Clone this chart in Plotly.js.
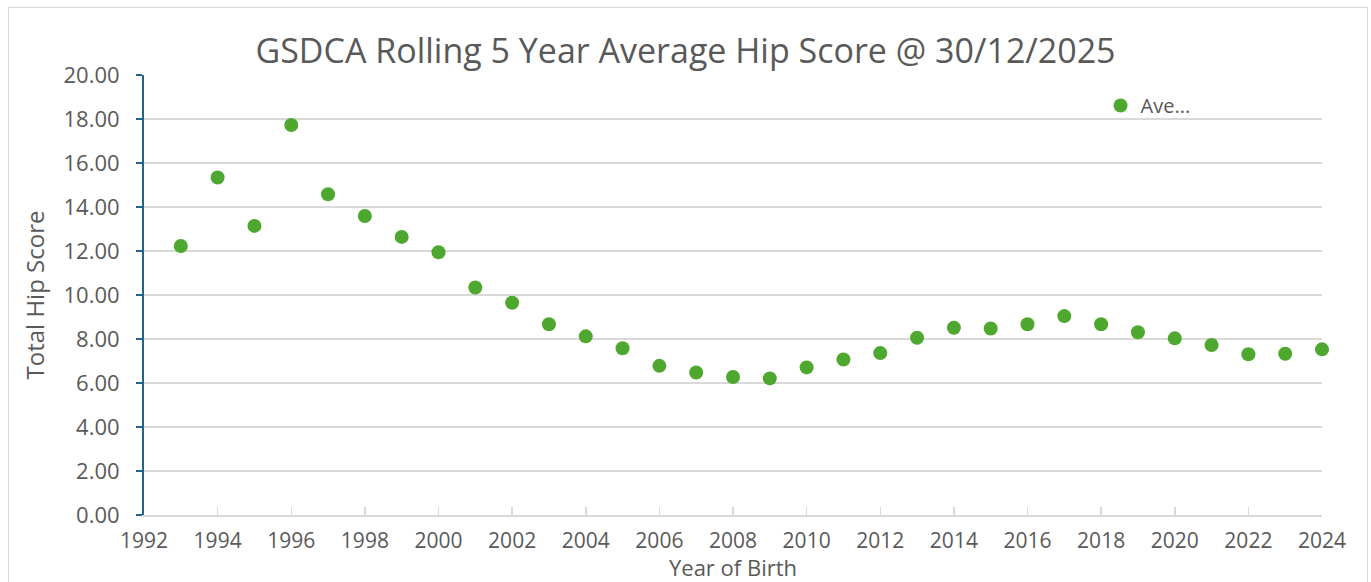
<!DOCTYPE html>
<html>
<head>
<meta charset="utf-8">
<script src="https://cdn.plot.ly/plotly-3.0.1.min.js"></script>
<style>
  html, body { margin: 0; padding: 0; background: #fff; }
  #wrap { position: relative; width: 1371px; height: 582px; overflow: hidden; }
  #chart { width: 1371px; height: 582px; }
  #frame { position: absolute; left: 8px; top: 7px; width: 1360px; height: 600px;
           border: 1.5px solid #d9d9d9; box-sizing: border-box; pointer-events: none; }
</style>
</head>
<body>
<div id="wrap">
  <div id="chart"></div>
  <div id="frame"></div>
</div>
<script>
const years = [1993,1994,1995,1996,1997,1998,1999,2000,2001,2002,2003,2004,2005,2006,2007,2008,
               2009,2010,2011,2012,2013,2014,2015,2016,2017,2018,2019,2020,2021,2022,2023,2024];
const avgHipScore = [12.23,15.34,13.14,17.73,14.58,13.59,12.64,11.94,10.34,9.65,8.67,8.12,7.58,6.78,6.48,6.27,
                     6.21,6.71,7.07,7.36,8.06,8.51,8.48,8.67,9.04,8.67,8.31,8.03,7.73,7.31,7.33,7.53];
const seriesName = "Ave...";
const titleText = "GSDCA Rolling 5 Year Average Hip Score @ 30/12/2025";
const xTitle = "Year of Birth";
const yTitle = "Total Hip Score";

const txt = '#595959';
const font = "'Open Sans', 'Noto Sans', sans-serif";

const trace = {
  x: years, y: avgHipScore, type: 'scatter', mode: 'markers', name: seriesName,
  marker: { color: '#4EA72E', size: 14 },
  cliponaxis: false
};

const layout = {
  width: 1371, height: 582,
  margin: { l: 144, r: 49, t: 75, b: 67 },
  paper_bgcolor: '#fff', plot_bgcolor: '#fff',
  font: { family: font, color: txt, size: 21 },
  title: { text: titleText, font: { size: 34, color: txt, family: font }, x: 0.5, xanchor: 'center', y: 0.912, yanchor: 'middle' },
  showlegend: true,
  legend: { x: 0.812, y: 0.975, xanchor: 'left', yanchor: 'top', bgcolor: 'rgba(0,0,0,0)', font: { size: 20, color: txt }, itemwidth: 30 },
  xaxis: {
    range: [1992, 2024], dtick: 2, tick0: 1992, showgrid: false, zeroline: false,
    showline: true, linecolor: '#d9d9d9', linewidth: 2,
    ticks: 'inside', ticklen: 8, tickcolor: '#d9d9d9', tickwidth: 1.5,
    tickfont: { size: 21, color: txt }, ticklabelstandoff: 6,
    title: { text: xTitle, font: { size: 22, color: txt }, standoff: 9 }
  },
  yaxis: {
    range: [0, 20], dtick: 2, tick0: 0, tickformat: '.2f',
    showgrid: true, gridcolor: '#d9d9d9', gridwidth: 1.5, zeroline: false,
    showline: true, linecolor: '#1f6391', linewidth: 2,
    ticks: 'outside', ticklen: 6, tickcolor: '#1f6391', tickwidth: 2,
    tickfont: { size: 22, color: txt }, ticklabelstandoff: 12,
    title: { text: yTitle, font: { size: 24, color: txt }, standoff: 12 }
  }
};

Plotly.newPlot('chart', [trace], layout, { displayModeBar: false, staticPlot: true });
</script>
</body>
</html>
